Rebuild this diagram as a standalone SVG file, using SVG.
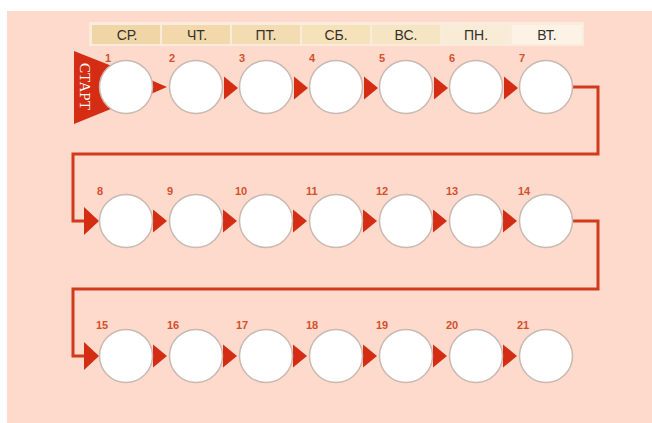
<svg xmlns="http://www.w3.org/2000/svg" width="652" height="423" viewBox="0 0 652 423">
<defs>
<style>
.day{font-family:"Liberation Sans",Arial,sans-serif;font-size:14px;fill:#35302c;text-anchor:middle}
.num{font-family:"Liberation Sans",Arial,sans-serif;font-size:11px;font-weight:bold;fill:#d4502c}
.c{fill:#ffffff;stroke:#c9b9b2;stroke-width:1.5}
.arr{fill:#d42d14}
.line{fill:none;stroke:#d23a1e;stroke-width:3;stroke-linejoin:miter}
</style>
<polygon id="a" class="arr" points="0,-11.5 14,0 0,11.5"/>
<polygon id="ae" class="arr" points="0,-14 15,0 0,14"/>
</defs>
<rect x="0" y="0" width="652" height="423" fill="#ffffff"/>
<rect x="7" y="11" width="645" height="412" fill="#fddacb"/>
<g id="header">
<rect x="89" y="22" width="495" height="24" fill="#fbebdc"/>
<rect x="92" y="25" width="68" height="19" fill="#f0d5a6"/>
<rect x="162" y="25" width="68" height="19" fill="#f2d8aa"/>
<rect x="232" y="25" width="68" height="19" fill="#f3dcb1"/>
<rect x="302" y="25" width="68" height="19" fill="#f5e1ba"/>
<rect x="372" y="25" width="68" height="19" fill="#f6e5c3"/>
<rect x="442" y="25" width="68" height="19" fill="#f9ecd6"/>
<rect x="512" y="25" width="70" height="19" fill="#fcf3e6"/>
<text class="day" x="127" y="40">СР.</text>
<text class="day" x="197" y="40">ЧТ.</text>
<text class="day" x="266" y="40">ПТ.</text>
<text class="day" x="336" y="40">СБ.</text>
<text class="day" x="406" y="40">ВС.</text>
<text class="day" x="476" y="40">ПН.</text>
<text class="day" x="547" y="40">ВТ.</text>
</g>
<g id="connectors">
<path class="line" d="M573,87 H598 V154 H73 V221 H86"/>
<path class="line" d="M573,221 H598 V289 H73 V356 H86"/>
<polygon class="arr" points="152,80.5 167,87 152,93.5"/>
<use href="#a" x="224" y="88"/><use href="#a" x="294" y="88"/><use href="#a" x="364" y="88"/><use href="#a" x="434" y="88"/><use href="#a" x="504" y="88"/>
<use href="#ae" x="84" y="221"/>
<use href="#a" x="153" y="221"/><use href="#a" x="223" y="221"/><use href="#a" x="293" y="221"/><use href="#a" x="363" y="221"/><use href="#a" x="433" y="221"/><use href="#a" x="503" y="221"/>
<use href="#ae" x="84" y="356"/>
<use href="#a" x="153" y="356"/><use href="#a" x="223" y="356"/><use href="#a" x="293" y="356"/><use href="#a" x="363" y="356"/><use href="#a" x="433" y="356"/><use href="#a" x="503" y="356"/>
</g>
<g id="start">
<polygon fill="#d42d14" points="74,51 74,124 165,87"/>
<text transform="translate(80,86.5) rotate(90)" font-family="'Liberation Serif','Times New Roman',serif" font-size="15" fill="#ffffff" text-anchor="middle" textLength="47" lengthAdjust="spacingAndGlyphs">СТАРТ</text>
</g>
<g id="n1"><circle class="c" cx="126" cy="87" r="26.5"/><text class="num" x="105" y="62">1</text></g>
<g id="n2"><circle class="c" cx="196" cy="87" r="26.5"/><text class="num" x="169" y="62">2</text></g>
<g id="n3"><circle class="c" cx="266" cy="87" r="26.5"/><text class="num" x="239" y="62">3</text></g>
<g id="n4"><circle class="c" cx="336" cy="87" r="26.5"/><text class="num" x="309" y="62">4</text></g>
<g id="n5"><circle class="c" cx="406" cy="87" r="26.5"/><text class="num" x="379" y="62">5</text></g>
<g id="n6"><circle class="c" cx="476" cy="87" r="26.5"/><text class="num" x="449" y="62">6</text></g>
<g id="n7"><circle class="c" cx="546" cy="87" r="26.5"/><text class="num" x="519" y="62">7</text></g>
<g id="n8"><circle class="c" cx="126" cy="221" r="26.5"/><text class="num" x="97" y="195">8</text></g>
<g id="n9"><circle class="c" cx="196" cy="221" r="26.5"/><text class="num" x="167" y="195">9</text></g>
<g id="n10"><circle class="c" cx="266" cy="221" r="26.5"/><text class="num" x="235" y="195">10</text></g>
<g id="n11"><circle class="c" cx="336" cy="221" r="26.5"/><text class="num" x="306" y="195">11</text></g>
<g id="n12"><circle class="c" cx="406" cy="221" r="26.5"/><text class="num" x="376" y="195">12</text></g>
<g id="n13"><circle class="c" cx="476" cy="221" r="26.5"/><text class="num" x="446" y="195">13</text></g>
<g id="n14"><circle class="c" cx="546" cy="221" r="26.5"/><text class="num" x="518" y="195">14</text></g>
<g id="n15"><circle class="c" cx="126" cy="356" r="26.5"/><text class="num" x="96" y="329">15</text></g>
<g id="n16"><circle class="c" cx="196" cy="356" r="26.5"/><text class="num" x="167" y="329">16</text></g>
<g id="n17"><circle class="c" cx="266" cy="356" r="26.5"/><text class="num" x="236" y="329">17</text></g>
<g id="n18"><circle class="c" cx="336" cy="356" r="26.5"/><text class="num" x="306" y="329">18</text></g>
<g id="n19"><circle class="c" cx="406" cy="356" r="26.5"/><text class="num" x="376" y="329">19</text></g>
<g id="n20"><circle class="c" cx="476" cy="356" r="26.5"/><text class="num" x="446" y="329">20</text></g>
<g id="n21"><circle class="c" cx="546" cy="356" r="26.5"/><text class="num" x="517" y="329">21</text></g>
</svg>
